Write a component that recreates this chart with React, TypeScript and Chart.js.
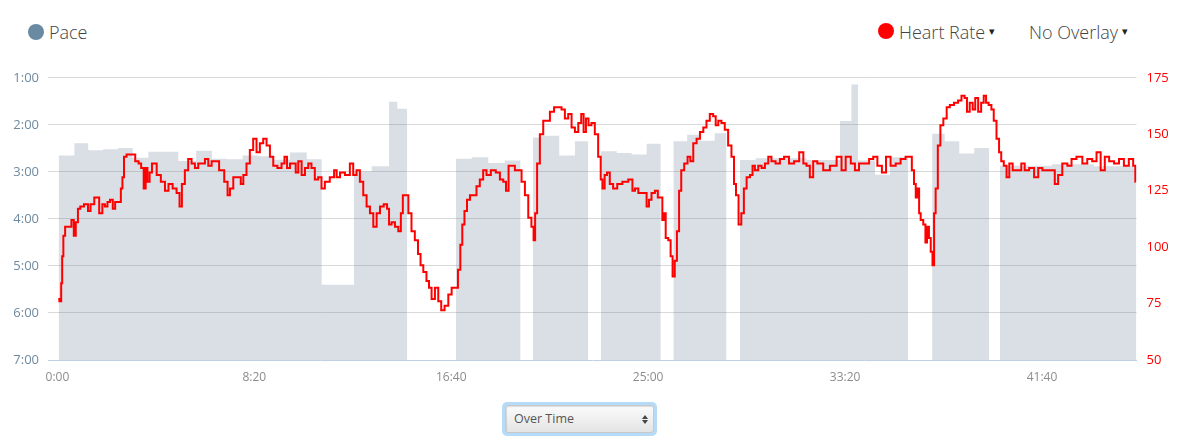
import React, { useEffect, useRef } from 'react';
import { Chart, registerables } from 'chart.js';

Chart.register(...registerables);

// Heart rate samples: elapsed seconds and beats per minute
const hrTimes = [
  2, 8, 11, 13, 17, 22, 32, 39, 44, 49, 55, 61, 74, 81, 87, 100, 112, 116, 125, 129,
  138, 143, 150, 159, 163, 167, 171, 180, 192, 203, 209, 216, 222, 226, 231, 237, 243, 248, 256, 269,
  277, 287, 298, 307, 313, 319, 328, 336, 345, 353, 362, 370, 379, 387, 396, 404, 417, 430, 434, 442,
  451, 463, 468, 476, 484, 493, 501, 510, 518, 527, 535, 544, 552, 565, 573, 580, 586, 595, 603, 607,
  616, 624, 633, 641, 649, 658, 666, 675, 683, 700, 705, 713, 722, 738, 747, 755, 764, 772, 781, 789,
  798, 806, 815, 823, 834, 840, 844, 853, 861, 870, 874, 880, 887, 895, 903, 912, 919, 925, 933, 941,
  946, 954, 963, 971, 978, 988, 997, 1005, 1014, 1020, 1026, 1030, 1037, 1043, 1052, 1060, 1068, 1077, 1085, 1094,
  1107, 1119, 1128, 1136, 1142, 1149, 1157, 1166, 1174, 1183, 1191, 1200, 1207, 1211, 1215, 1221, 1229, 1238, 1246, 1255,
  1267, 1276, 1284, 1293, 1301, 1310, 1318, 1327, 1333, 1339, 1345, 1352, 1360, 1369, 1377, 1382, 1386, 1393, 1398, 1407,
  1415, 1428, 1441, 1458, 1462, 1471, 1479, 1492, 1500, 1504, 1513, 1521, 1528, 1534, 1538, 1542, 1547, 1555, 1559, 1565,
  1570, 1576, 1581, 1587, 1596, 1604, 1610, 1619, 1627, 1636, 1644, 1652, 1661, 1669, 1674, 1682, 1690, 1699, 1707, 1716,
  1720, 1726, 1733, 1740, 1746, 1754, 1763, 1767, 1775, 1784, 1792, 1801, 1809, 1817, 1830, 1839, 1851, 1864, 1877, 1890,
  1898, 1906, 1915, 1923, 1936, 1953, 1970, 1987, 1995, 2008, 2021, 2029, 2042, 2055, 2067, 2076, 2088, 2099, 2109, 2122,
  2135, 2147, 2160, 2166, 2173, 2177, 2182, 2186, 2190, 2194, 2203, 2205, 2211, 2215, 2220, 2224, 2228, 2232, 2239, 2245,
  2254, 2262, 2270, 2283, 2291, 2300, 2307, 2312, 2321, 2327, 2334, 2342, 2349, 2355, 2361, 2368, 2375, 2380, 2389, 2393,
  2400, 2406, 2414, 2420, 2431, 2444, 2451, 2461, 2474, 2486, 2495, 2507, 2520, 2528, 2537, 2545, 2558, 2571, 2579, 2596,
  2609, 2621, 2634, 2643, 2655, 2664, 2677, 2689, 2702, 2714, 2727, 2736, 2738,
];
const hrValues = [
  77, 76, 84, 96, 105, 109, 109, 112, 105, 111, 117, 118, 119, 116, 119, 122, 115, 119, 118, 120,
  121, 117, 120, 120, 126, 131, 140, 141, 141, 138, 137, 135, 126, 135, 129, 133, 137, 137, 132, 129,
  125, 128, 126, 124, 118, 128, 134, 139, 137, 135, 137, 137, 139, 136, 138, 138, 134, 129, 123, 126,
  131, 131, 128, 132, 137, 143, 148, 142, 146, 148, 145, 140, 136, 135, 137, 140, 135, 137, 137, 133,
  138, 132, 135, 137, 135, 130, 131, 126, 129, 131, 134, 131, 133, 132, 137, 132, 134, 129, 123, 118,
  115, 109, 115, 118, 119, 117, 110, 111, 109, 107, 115, 123, 123, 115, 107, 103, 97, 92, 89, 85,
  82, 77, 82, 76, 72, 74, 79, 82, 82, 90, 101, 110, 116, 121, 123, 123, 127, 130, 134, 132,
  134, 133, 130, 129, 125, 136, 136, 134, 134, 129, 123, 113, 109, 103, 115, 137, 150, 156, 156, 160,
  162, 162, 161, 157, 159, 153, 151, 155, 159, 151, 157, 154, 155, 150, 140, 130, 126, 132, 133, 128,
  126, 128, 129, 130, 125, 126, 124, 124, 118, 121, 124, 125, 122, 122, 112, 115, 104, 103, 96, 87,
  94, 107, 125, 134, 137, 140, 138, 146, 148, 151, 153, 156, 159, 158, 154, 156, 155, 152, 145, 140,
  128, 123, 110, 115, 126, 131, 132, 136, 134, 136, 135, 137, 140, 138, 137, 139, 140, 137, 138, 142,
  137, 136, 131, 138, 137, 134, 136, 140, 134, 140, 137, 134, 137, 137, 139, 140, 136, 133, 140, 136,
  137, 139, 140, 140, 134, 128, 122, 126, 115, 112, 110, 102, 109, 104, 98, 92, 115, 126, 145, 154,
  157, 162, 163, 164, 165, 167, 166, 160, 164, 161, 166, 160, 164, 167, 164, 163, 161, 156, 148, 142,
  138, 136, 131, 137, 134, 134, 137, 134, 135, 131, 135, 134, 134, 134, 128, 132, 137, 136, 139, 140,
  137, 139, 138, 142, 134, 140, 138, 137, 139, 136, 139, 136, 129,
];

// Pace splits: start / end in elapsed seconds, pace in minutes per km
const paceStart = [
  3, 43, 78, 116, 154, 191, 231, 269, 307, 352, 392, 430, 470, 510, 548, 590, 633, 671, 753, 798, 842, 863,
  1012, 1052, 1094, 1136,
  1207, 1229, 1274, 1314,
  1380, 1420, 1458, 1496,
  1564, 1599, 1631, 1669,
  1733, 1773, 1902, 1987, 2016, 2033, 2076, 2114,
  2221, 2253, 2290, 2328,
  2393, 2525, 2632,
];
const paceEnd = [
  43, 78, 116, 154, 191, 231, 269, 307, 352, 392, 430, 470, 510, 548, 590, 633, 671, 753, 798, 842, 863, 888,
  1052, 1094, 1136, 1176,
  1229, 1274, 1314, 1348,
  1420, 1458, 1496, 1532,
  1599, 1631, 1669, 1699,
  1773, 1902, 1987, 2016, 2033, 2076, 2114, 2160,
  2253, 2290, 2328, 2366,
  2525, 2632, 2740,
];
const paceValues = [
  2.65, 2.39, 2.54, 2.52, 2.49, 2.7, 2.57, 2.57, 2.77, 2.55, 2.72, 2.73, 2.65, 2.67, 2.74, 2.59, 2.73, 5.4, 2.99, 2.88, 1.51, 1.66,
  2.72, 2.69, 2.81, 2.76,
  2.27, 2.23, 2.65, 2.35,
  2.56, 2.6, 2.63, 2.4,
  2.35, 2.21, 2.34, 2.18,
  2.75, 2.71, 2.75, 1.92, 1.14, 2.76, 3.06, 2.69,
  2.19, 2.35, 2.61, 2.49,
  2.87, 2.84, 2.88,
];

const xTickValues = [0, 500, 1000, 1500, 2000, 2500];
const xTickLabels = ['0:00', '8:20', '16:40', '25:00', '33:20', '41:40'];
const paceTickValues = [1, 2, 3, 4, 5, 6, 7];
const paceTickLabels = ['1:00', '2:00', '3:00', '4:00', '5:00', '6:00', '7:00'];
const hrTickValues = [50, 75, 100, 125, 150, 175];

const FONT = '"Open Sans", "Noto Sans", sans-serif';

export default function App() {
  const ref = useRef<HTMLCanvasElement>(null);

  useEffect(() => {
    document.body.style.margin = '0';
    const hrData = hrTimes.map((t, i) => ({ x: t, y: hrValues[i] }));
    const paceData: { x: number; y: number | null }[] = [];
    paceValues.forEach((v, i) => {
      paceData.push({ x: paceStart[i], y: v });
      paceData.push({ x: paceEnd[i], y: v });
      if (i < paceValues.length - 1 && paceStart[i + 1] !== paceEnd[i]) {
        paceData.push({ x: paceEnd[i], y: null });
      }
    });

    Chart.defaults.font.family = FONT;

    const chart = new Chart(ref.current as HTMLCanvasElement, {
      type: 'line',
      data: {
        datasets: [
          {
            label: 'Heart Rate',
            data: hrData,
            yAxisID: 'yHR',
            borderColor: '#ff0000',
            borderWidth: 2,
            pointRadius: 0,
            tension: 0,
            stepped: 'middle',
            fill: false,
            order: 0,
          },
          {
            label: 'Pace',
            data: paceData,
            yAxisID: 'yPace',
            borderWidth: 0,
            borderColor: 'rgba(0,0,0,0)',
            backgroundColor: 'rgba(95,123,147,0.24)',
            fill: { value: 7 },
            pointRadius: 0,
            spanGaps: false,
            tension: 0,
            order: 1,
          },
        ],
      },
      options: {
        animation: false,
        responsive: false,
        maintainAspectRatio: false,
        layout: { padding: { top: 16, left: 0, right: 0, bottom: 0 } },
        plugins: { legend: { display: false }, tooltip: { enabled: false } },
        scales: {
          x: {
            type: 'linear',
            min: -24,
            max: 2740,
            afterBuildTicks: (s: any) => {
              s.ticks = xTickValues.map((v) => ({ value: v }));
            },
            afterFit: (s: any) => {
              s.height = 30;
            },
            grid: { display: false, drawTicks: false },
            border: { display: true, color: '#c0d0e0', width: 1 },
            ticks: {
              padding: 10,
              color: '#8c8c8c',
              font: { size: 12 },
              autoSkip: false,
              maxRotation: 0,
              callback: (v: any) => {
                const i = xTickValues.indexOf(Number(v));
                return i >= 0 ? xTickLabels[i] : '';
              },
            },
          },
          yPace: {
            type: 'linear',
            position: 'left',
            min: 1,
            max: 7,
            reverse: true,
            afterBuildTicks: (s: any) => {
              s.ticks = paceTickValues.map((v) => ({ value: v }));
            },
            afterFit: (s: any) => {
              s.width = 48;
            },
            grid: {
              drawTicks: false,
              lineWidth: 1,
              color: (ctx: any) => (ctx.tick && ctx.tick.value === 7 ? 'rgba(0,0,0,0)' : '#d9d9d9'),
            },
            border: { display: false },
            ticks: {
              padding: 9,
              color: '#6e8aa0',
              font: { size: 13 },
              callback: (v: any) => {
                const i = paceTickValues.indexOf(Number(v));
                return i >= 0 ? paceTickLabels[i] : '';
              },
            },
          },
          yHR: {
            type: 'linear',
            position: 'right',
            min: 50,
            max: 175,
            afterBuildTicks: (s: any) => {
              s.ticks = hrTickValues.map((v) => ({ value: v }));
            },
            afterFit: (s: any) => {
              s.width = 40.5;
            },
            grid: { display: false, drawTicks: false },
            border: { display: false },
            ticks: {
              padding: 10,
              color: '#ff0000',
              font: { size: 13 },
            },
          },
        },
      },
    } as any);
    return () => chart.destroy();
  }, []);

  const legendText: React.CSSProperties = {
    position: 'absolute',
    fontFamily: FONT,
    fontSize: 18,
    fontWeight: 300,
    lineHeight: '24px',
    color: '#444',
    whiteSpace: 'nowrap',
  };
  const caret: React.CSSProperties = {
    position: 'absolute',
    fontFamily: '"DejaVu Sans", sans-serif',
    fontSize: 11,
    lineHeight: '12px',
    color: '#222',
  };

  return (
    <div style={{ position: 'relative', width: 1177, height: 446, background: '#fff', overflow: 'hidden' }}>
      <div style={{ position: 'absolute', left: 28, top: 24, width: 16, height: 16, borderRadius: '50%', background: '#6a8aa2' }} />
      <div style={{ ...legendText, left: 49, top: 20 }}>Pace</div>

      <div style={{ position: 'absolute', left: 878, top: 23, width: 16, height: 16, borderRadius: '50%', background: '#ff0000' }} />
      <div style={{ ...legendText, left: 899, top: 19.5 }}>Heart Rate</div>
      <div style={{ ...caret, left: 989, top: 26 }}>▾</div>

      <div style={{ ...legendText, left: 1029, top: 19.5 }}>No Overlay</div>
      <div style={{ ...caret, left: 1122, top: 26 }}>▾</div>

      <canvas
        ref={ref}
        width={1177}
        height={330}
        style={{ position: 'absolute', left: 0, top: 60, width: 1177, height: 330, display: 'block' }}
      />

      <div style={{ position: 'absolute', left: 502, top: 402, width: 155, height: 34, borderRadius: 5, background: '#b5dbf8' }} />
      <div
        style={{
          position: 'absolute',
          left: 505,
          top: 405,
          width: 147,
          height: 26,
          border: '1px solid #c8c8c8',
          borderRadius: 3,
          background: 'linear-gradient(#fbfbfb, #e4e4e4)',
          boxShadow: 'inset 1px 1px 1px rgba(0,0,0,0.12)',
        }}
      />
      <div
        style={{
          position: 'absolute',
          left: 514,
          top: 410,
          fontFamily: FONT,
          fontSize: 12.5,
          lineHeight: '17px',
          color: '#555',
          whiteSpace: 'nowrap',
        }}
      >
        Over Time
      </div>
      <div style={{ position: 'absolute', left: 642, top: 415, width: 0, height: 0, borderLeft: '3px solid transparent', borderRight: '3px solid transparent', borderBottom: '4px solid #444' }} />
      <div style={{ position: 'absolute', left: 642, top: 420, width: 0, height: 0, borderLeft: '3px solid transparent', borderRight: '3px solid transparent', borderTop: '4px solid #444' }} />
    </div>
  );
}
